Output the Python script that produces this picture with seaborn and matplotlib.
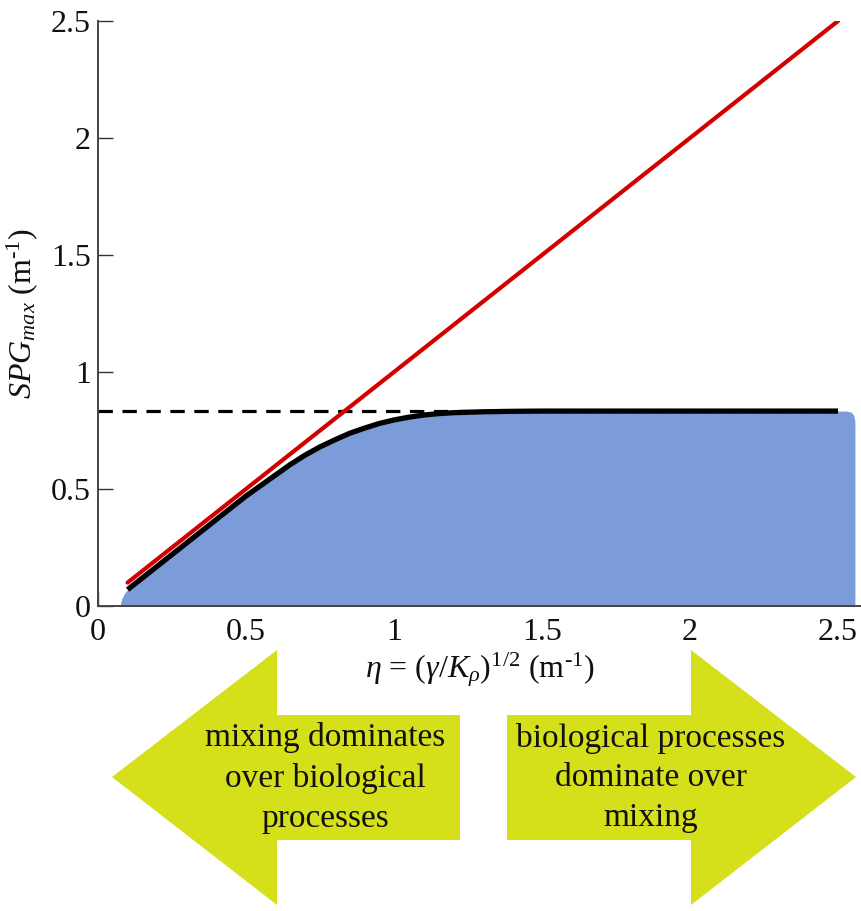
import matplotlib
matplotlib.use("Agg")
import matplotlib.pyplot as plt
from matplotlib.patches import Polygon
import seaborn as sns
import pandas as pd

# Maximum spatial gradient of the solution versus the decay scale eta
eta = [0.10, 0.15, 0.20, 0.25, 0.30, 0.35, 0.40, 0.45, 0.50, 0.55, 0.60,
       0.65, 0.70, 0.75, 0.80, 0.85, 0.90, 0.95, 1.00, 1.05, 1.10, 1.15,
       1.20, 1.30, 1.40, 1.50, 1.75, 2.00, 2.25, 2.50]
spg_max = [0.070, 0.120, 0.170, 0.220, 0.270, 0.320, 0.370, 0.420, 0.470,
           0.515, 0.560, 0.605, 0.645, 0.680, 0.710, 0.738, 0.760, 0.780,
           0.795, 0.807, 0.816, 0.822, 0.826, 0.830, 0.832, 0.833, 0.833,
           0.833, 0.833, 0.833]

# Upper bound SPG_max = eta (red line)
bound_eta = [0.10, 2.50]
bound_spg = [0.10, 2.50]

# Asymptotic plateau level (dashed)
plateau = 0.833
plateau_eta = [0.0, 2.50]

# Shaded region under the curve, slightly wider than the curve itself
shade_eta = [0.074, 0.080, 0.090] + eta + [2.530, 2.545, 2.553, 2.557]
shade_spg = [0.000, 0.030, 0.055] + spg_max + [0.833, 0.828, 0.815, 0.790]

x_ticks = [0, 0.5, 1, 1.5, 2, 2.5]
y_ticks = [0, 0.5, 1, 1.5, 2, 2.5]
tick_labels = ["0", "0.5", "1", "1.5", "2", "2.5"]

left_text = "mixing dominates\nover biological\nprocesses"
right_text = "biological processes\ndominate over\nmixing"

sns.set_style("ticks")
plt.rcParams["font.family"] = ["Liberation Serif", "DejaVu Serif"]
plt.rcParams["mathtext.fontset"] = "custom"
plt.rcParams["mathtext.rm"] = "Liberation Serif"
plt.rcParams["mathtext.it"] = "Liberation Serif:italic"
plt.rcParams["mathtext.bf"] = "Liberation Serif:bold"

W, H = 861, 911
fig = plt.figure(figsize=(W / 100, H / 100), dpi=100)
fig.patch.set_facecolor("white")

ax = fig.add_axes([98 / W, 1 - 606 / H, 1 - 98 / W, (606 - 21) / H])
ax.set_facecolor("white")

curve = pd.DataFrame({"eta": eta, "spg": spg_max})
bound = pd.DataFrame({"eta": bound_eta, "spg": bound_spg})
level = pd.DataFrame({"eta": plateau_eta, "spg": [plateau, plateau]})

ax.fill_between(shade_eta, shade_spg, 0, color="#7b9bd9", lw=0, zorder=1)
sns.lineplot(data=level, x="eta", y="spg", ax=ax, color="black", lw=2.3,
             dashes=False, zorder=2).lines[-1].set_dashes([4.5, 3.0])
sns.lineplot(data=curve, x="eta", y="spg", ax=ax, color="black", lw=3.8,
             zorder=3, solid_capstyle="butt")
sns.lineplot(data=bound, x="eta", y="spg", ax=ax, color="#d40000", lw=3.0,
             zorder=4, solid_capstyle="round")

ax.set_xlim(0, (W - 98) / 296)
ax.set_ylim(0, 2.5)
ax.set_xticks(x_ticks)
ax.set_xticklabels(tick_labels)
ax.set_yticks(y_ticks)
ax.set_yticklabels(tick_labels)
ax.tick_params(direction="in", length=11, width=1.0, color="#333333",
               labelsize=23, labelcolor="#111111")
ax.tick_params(axis="x", pad=9)
ax.tick_params(axis="y", pad=5)
for s in ["top", "right"]:
    ax.spines[s].set_visible(False)
for s in ["left", "bottom"]:
    ax.spines[s].set_color("#444444")
    ax.spines[s].set_linewidth(1.4)
    ax.spines[s].set_zorder(5)

ax.set_xlabel(r"$\eta$ = ($\gamma$/$K_{\rho}$)$^{\mathrm{1/2}}$ (m$^{\mathrm{‐1}}$)",
              fontsize=23, color="#111111", labelpad=2)
ax.set_ylabel(r"$SPG_{max}$ (m$^{\mathrm{‐1}}$)", fontsize=23,
              color="#111111", labelpad=8)

# Direction arrows below the plot, drawn in pixel space
over = fig.add_axes([0, 0, 1, 1], zorder=-1)
over.set_xlim(0, W)
over.set_ylim(H, 0)
over.axis("off")
arrow_color = "#d6e01a"
left_arrow = [(112, 777), (277, 650), (277, 715), (460, 715),
              (460, 840), (277, 840), (277, 905)]
right_arrow = [(507, 715), (691, 715), (691, 650), (856, 777),
               (691, 905), (691, 840), (507, 840)]
over.add_patch(Polygon(left_arrow, closed=True, color=arrow_color, lw=0))
over.add_patch(Polygon(right_arrow, closed=True, color=arrow_color, lw=0))
over.text(325, 778, left_text, ha="center", va="center", fontsize=24,
          color="#111111", linespacing=1.4)
over.text(651, 778, right_text, ha="center", va="center", fontsize=24,
          color="#111111", linespacing=1.4)

fig.savefig("out.png", dpi=100, facecolor="white")
